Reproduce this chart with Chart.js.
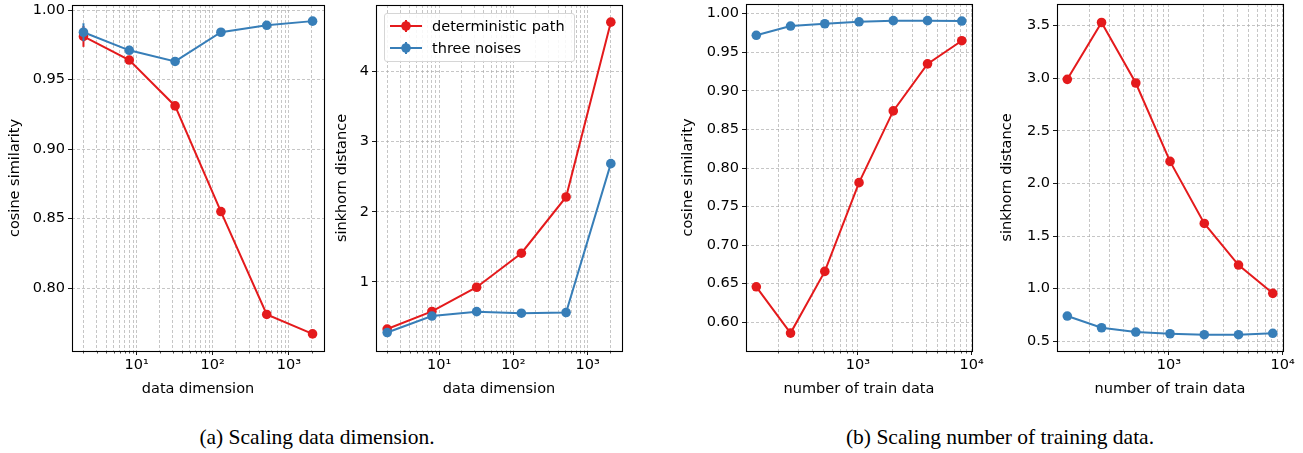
<!DOCTYPE html>
<html>
<head>
<meta charset="utf-8">
<script src="https://cdn.jsdelivr.net/npm/chart.js@4.4.1/dist/chart.umd.min.js"></script>
<style>
  html, body { margin: 0; padding: 0; background: #fff; overflow: hidden; }
  #wrap { position: relative; width: 1303px; height: 453px; background: #fff; }
  canvas { position: absolute; }
  .cap { position: absolute; font-family: "Liberation Serif", "Times New Roman", serif; font-size: 21.5px; color: #000; white-space: nowrap; transform: translate(-50%, -50%); }
  #legend { position: absolute; left: 384px; top: 13px; width: 189px; height: 47px; border: 1px solid #d6d6d6; border-radius: 3px; background: rgba(255,255,255,0.85); font-family: "DejaVu Sans", sans-serif; font-size: 14.5px; color: #000; }
  #legend .it { position: absolute; left: 0; height: 22px; width: 189px; }
  #legend svg { position: absolute; left: 4px; top: 0; }
  #legend span { position: absolute; left: 47px; top: 1px; line-height: 20px; white-space: nowrap; }
</style>
</head>
<body>
<div id="wrap">
  <canvas id="c1" width="325" height="420" style="left:5px;top:-20px"></canvas>
  <canvas id="c2" width="300" height="420" style="left:332px;top:-20px"></canvas>
  <canvas id="c3" width="312" height="420" style="left:678px;top:-20px"></canvas>
  <canvas id="c4" width="304" height="420" style="left:997px;top:-20px"></canvas>
  <div id="legend">
    <div class="it" style="top:1px">
      <svg width="36" height="22"><line x1="1" y1="11" x2="33" y2="11" stroke="#e41a1c" stroke-width="2"/><line x1="17" y1="5" x2="17" y2="17" stroke="#e41a1c" stroke-width="2"/><circle cx="17" cy="11" r="4.8" fill="#e41a1c"/></svg>
      <span id="lg1"></span>
    </div>
    <div class="it" style="top:23px">
      <svg width="36" height="22"><line x1="1" y1="11" x2="33" y2="11" stroke="#377eb8" stroke-width="2"/><line x1="17" y1="5" x2="17" y2="17" stroke="#377eb8" stroke-width="2"/><circle cx="17" cy="11" r="4.8" fill="#377eb8"/></svg>
      <span id="lg2"></span>
    </div>
  </div>
  <div class="cap" style="left:317px;top:437px">(a) Scaling data dimension.</div>
  <div class="cap" style="left:1000px;top:437px">(b) Scaling number of training data.</div>
</div>
<script>
// ---------------- data ----------------
const seriesNames = ['deterministic path', 'three noises'];

// (a) scaling data dimension
const dims = [2, 8, 32, 128, 512, 2048];
const cosDimDet   = [0.981, 0.964, 0.931, 0.855, 0.781, 0.767];
const cosDimDetErr = [0.0075, 0.0012, 0.0012, 0.0012, 0.0012, 0.0012];
const cosDimNoise = [0.984, 0.971, 0.963, 0.984, 0.989, 0.992];
const cosDimNoiseErr = [0.0065, 0.0012, 0.0012, 0.0010, 0.0010, 0.0010];
const skDimDet   = [0.33, 0.58, 0.925, 1.41, 2.21, 4.70];
const skDimDetErr = [0.02, 0.02, 0.02, 0.02, 0.02, 0.02];
const skDimNoise = [0.28, 0.515, 0.577, 0.555, 0.565, 2.685];
const skDimNoiseErr = [0.02, 0.02, 0.02, 0.02, 0.02, 0.02];

// (b) scaling number of training data
const nTrain = [128, 256, 512, 1024, 2048, 4096, 8192];
const cosNDet   = [0.646, 0.586, 0.666, 0.781, 0.874, 0.935, 0.965];
const cosNDetErr = [0.002, 0.002, 0.002, 0.002, 0.002, 0.002, 0.002];
const cosNNoise = [0.972, 0.984, 0.987, 0.9895, 0.991, 0.991, 0.9905];
const cosNNoiseErr = [0.001, 0.001, 0.001, 0.001, 0.001, 0.001, 0.001];
const skNDet   = [2.99, 3.53, 2.955, 2.21, 1.62, 1.225, 0.956];
const skNDetErr = [0.01, 0.01, 0.01, 0.01, 0.01, 0.01, 0.01];
const skNNoise = [0.740, 0.629, 0.588, 0.572, 0.563, 0.563, 0.576];
const skNNoiseErr = [0.01, 0.01, 0.01, 0.01, 0.01, 0.01, 0.01];

// tick labels
const xMajorDim = [10, 100, 1000];
const xMajorDimLabels = ['10\u00B9', '10\u00B2', '10\u00B3'];
const xMajorN = [1000, 10000];
const xMajorNLabels = ['10\u00B3', '10\u2074'];
const yTicksCosDim = [0.80, 0.85, 0.90, 0.95, 1.00];
const yLabelsCosDim = ['0.80', '0.85', '0.90', '0.95', '1.00'];
const yTicksSkDim = [1, 2, 3, 4];
const yLabelsSkDim = ['1', '2', '3', '4'];
const yTicksCosN = [0.60, 0.65, 0.70, 0.75, 0.80, 0.85, 0.90, 0.95, 1.00];
const yLabelsCosN = ['0.60', '0.65', '0.70', '0.75', '0.80', '0.85', '0.90', '0.95', '1.00'];
const yTicksSkN = [0.5, 1.0, 1.5, 2.0, 2.5, 3.0, 3.5];
const yLabelsSkN = ['0.5', '1.0', '1.5', '2.0', '2.5', '3.0', '3.5'];

// ---------------- style ----------------
const RED = '#e41a1c', BLUE = '#377eb8';
const GRID = 'rgba(170,170,170,0.85)';
const FONT = { family: 'DejaVu Sans', size: 14.5 };

document.getElementById('lg1').textContent = seriesNames[0];
document.getElementById('lg2').textContent = seriesNames[1];

function near(a, b) { return Math.abs(a - b) < 1e-9 * Math.max(1, Math.abs(b)); }
function isMajorX(majors, v) { return majors.some(m => near(m, v)); }

const framePlugin = {
  id: 'frame',
  afterDraw(chart) {
    const { ctx, chartArea: a } = chart;
    const xs = chart.scales.x;
    ctx.save();
    ctx.strokeStyle = '#000';
    ctx.lineWidth = 0.7;
    xs.ticks.forEach(t => {
      if (!t.major) {
        const px = Math.round(xs.getPixelForValue(t.value)) + 0.5;
        ctx.beginPath();
        ctx.moveTo(px, a.bottom);
        ctx.lineTo(px, a.bottom + 2.5);
        ctx.stroke();
      }
    });
    ctx.lineWidth = 1.1;
    ctx.strokeStyle = '#000';
    ctx.strokeRect(Math.round(a.left) + 0.5, Math.round(a.top) + 0.5, Math.round(a.right - a.left), Math.round(a.bottom - a.top));
    ctx.restore();
  }
};

const errPlugin = {
  id: 'errbars',
  beforeDatasetDraw(chart, args) {
    const ds = chart.data.datasets[args.index];
    const ys = chart.scales.y;
    const ctx = chart.ctx;
    ctx.save();
    ctx.strokeStyle = ds.borderColor;
    ctx.lineWidth = 2;
    ds.data.forEach((p, i) => {
      const e = ds.err[i];
      const px = args.meta.data[i].x;
      ctx.beginPath();
      ctx.moveTo(px, ys.getPixelForValue(p.y - e));
      ctx.lineTo(px, ys.getPixelForValue(p.y + e));
      ctx.stroke();
    });
    ctx.restore();
  }
};

function makePanel(o) {
  const mkDs = (label, ys, errs, color, order) => ({
    label, err: errs, order,
    data: o.xs.map((x, i) => ({ x, y: ys[i] })),
    borderColor: color, backgroundColor: color,
    pointBackgroundColor: color, pointBorderColor: color,
    borderWidth: 2, pointRadius: 4.8, pointBorderWidth: 0, pointHoverRadius: 4.8,
    tension: 0, fill: false
  });
  const gridCommon = { color: GRID, lineWidth: 0.8, tickLength: 4, tickWidth: 0.9 };
  new Chart(document.getElementById(o.id), {
    type: 'line',
    data: {
      datasets: [
        mkDs(seriesNames[0], o.red, o.redErr, RED, 2),
        mkDs(seriesNames[1], o.blue, o.blueErr, BLUE, 1)
      ]
    },
    options: {
      responsive: false, animation: false, events: [],
      layout: { padding: { left: 0, right: o.padRight, top: o.padTop, bottom: 0 } },
      plugins: { legend: { display: false }, tooltip: { enabled: false } },
      scales: {
        x: {
          type: 'logarithmic', position: 'bottom', min: o.xMin, max: o.xMax,
          afterBuildTicks: s => {
            const t = [];
            for (let e = 0; e <= 4; e++) {
              for (let m = 1; m < 10; m++) {
                const v = m * Math.pow(10, e);
                if (v >= s.min && v <= s.max) t.push({ value: v, major: isMajorX(o.xMajor, v) });
              }
            }
            s.ticks = t;
          },
          afterFit: s => { s.height = 49; },
          ticks: {
            autoSkip: false, maxRotation: 0, minRotation: 0, padding: 2,
            font: FONT, color: '#000',
            callback: v => { const i = o.xMajor.findIndex(m => near(m, v)); return i >= 0 ? o.xMajorLabels[i] : ''; }
          },
          grid: Object.assign({}, gridCommon, {
            tickColor: c => (c.tick && isMajorX(o.xMajor, c.tick.value)) ? '#000' : 'rgba(0,0,0,0)'
          }),
          border: { display: false, dash: [3, 2] },
          title: { display: true, text: o.xTitle, font: FONT, color: '#000', padding: { top: 0, bottom: 2.3 } }
        },
        y: {
          type: 'linear', position: 'left', min: o.yMin, max: o.yMax,
          afterBuildTicks: s => { s.ticks = o.yTicks.map(v => ({ value: v })); },
          afterFit: s => { s.width = o.yWidth; },
          ticks: {
            padding: 3, font: FONT, color: '#000',
            callback: v => { const i = o.yTicks.findIndex(m => near(m, v)); return i >= 0 ? o.yLabels[i] : ''; }
          },
          grid: Object.assign({}, gridCommon, { tickColor: '#000' }),
          border: { display: false, dash: [3, 2] },
          title: { display: true, text: o.yTitle, font: FONT, color: '#000', padding: { top: 2, bottom: 0 } }
        }
      }
    },
    plugins: [framePlugin, errPlugin]
  });
}

makePanel({
  id: 'c1', xs: dims, red: cosDimDet, redErr: cosDimDetErr, blue: cosDimNoise, blueErr: cosDimNoiseErr,
  xMin: 1.4142, xMax: 2896, yMin: 0.7547, yMax: 1.0036,
  xMajor: xMajorDim, xMajorLabels: xMajorDimLabels, yTicks: yTicksCosDim, yLabels: yLabelsCosDim,
  xTitle: 'data dimension', yTitle: 'cosine similarity',
  yWidth: 67, padRight: 6, padTop: 25
});
makePanel({
  id: 'c2', xs: dims, red: skDimDet, redErr: skDimDetErr, blue: skDimNoise, blueErr: skDimNoiseErr,
  xMin: 1.4142, xMax: 2896, yMin: 0.017, yMax: 4.944,
  xMajor: xMajorDim, xMajorLabels: xMajorDimLabels, yTicks: yTicksSkDim, yLabels: yLabelsSkDim,
  xTitle: 'data dimension', yTitle: 'sinkhorn distance',
  yWidth: 44, padRight: 10, padTop: 25
});
makePanel({
  id: 'c3', xs: nTrain, red: cosNDet, redErr: cosNDetErr, blue: cosNNoise, blueErr: cosNNoiseErr,
  xMin: 103.9, xMax: 10077, yMin: 0.5628, yMax: 1.0126,
  xMajor: xMajorN, xMajorLabels: xMajorNLabels, yTicks: yTicksCosN, yLabels: yLabelsCosN,
  xTitle: 'number of train data', yTitle: 'cosine similarity',
  yWidth: 68, padRight: 18, padTop: 24
});
makePanel({
  id: 'c4', xs: nTrain, red: skNDet, redErr: skNDetErr, blue: skNNoise, blueErr: skNNoiseErr,
  xMin: 103.9, xMax: 10077, yMin: 0.408, yMax: 3.706,
  xMajor: xMajorN, xMajorLabels: xMajorNLabels, yTicks: yTicksSkN, yLabels: yLabelsSkN,
  xTitle: 'number of train data', yTitle: 'sinkhorn distance',
  yWidth: 60, padRight: 18, padTop: 24
});
</script>
</body>
</html>
